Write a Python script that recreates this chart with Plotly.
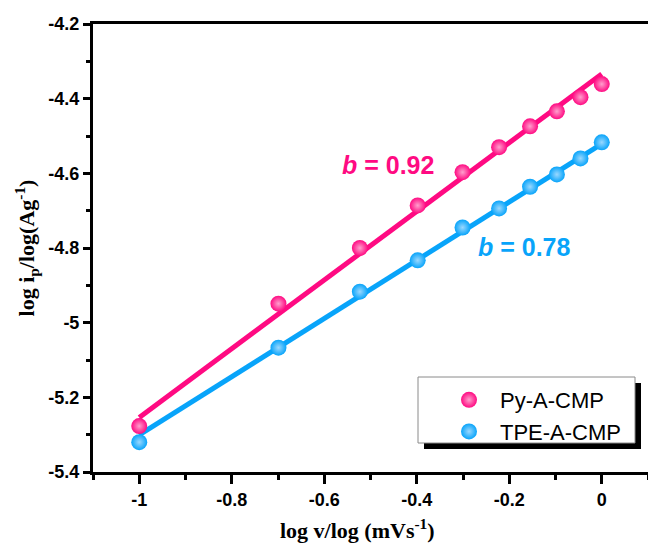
import numpy as np
import plotly.graph_objects as go

# log of scan rate (0.1 ... 1 mV/s)
log_v = [-1.0, -0.699, -0.523, -0.398, -0.301, -0.222, -0.155, -0.097, -0.046, 0.0]
# log of peak current
py_a_cmp = [-5.277, -4.949, -4.800, -4.686, -4.597, -4.530, -4.474, -4.434, -4.396, -4.361]
tpe_a_cmp = [-5.320, -5.067, -4.917, -4.833, -4.745, -4.694, -4.636, -4.603, -4.560, -4.517]
# b-values (slopes of the linear fits)
b_py = 0.92
b_tpe = 0.78

series_names = ["Py-A-CMP", "TPE-A-CMP"]
x_tickvals = [-1.0, -0.8, -0.6, -0.4, -0.2, 0.0]
x_ticktext = ["-1", "-0.8", "-0.6", "-0.4", "-0.2", "0"]
y_tickvals = [-5.4, -5.2, -5.0, -4.8, -4.6, -4.4, -4.2]
y_ticktext = ["-5.4", "-5.2", "-5", "-4.8", "-4.6", "-4.4", "-4.2"]

PINK = "#FF0A82"
BLUE = "#08A4FA"
PINK_HI = "#FF9FCD"
BLUE_HI = "#9AD8FF"

W, H = 648, 544
ML, MR, MT, MB = 93, 0, 24, 72
PW, PH = W - ML - MR, H - MT - MB


def px(xp):
    return (xp - ML) / PW


def py(yp):
    return (H - MB - yp) / PH


def fit_line(x, y, slope):
    x = np.asarray(x)
    y = np.asarray(y)
    c = y.mean() - slope * x.mean()
    xs = np.array([min(x), max(x)])
    return xs, slope * xs + c


def bold(labels):
    return [f"<b>{t}</b>" for t in labels]


fig = go.Figure()

for y, b, col in [(py_a_cmp, b_py, PINK), (tpe_a_cmp, b_tpe, BLUE)]:
    lx, ly = fit_line(log_v, y, b)
    fig.add_trace(go.Scatter(x=lx, y=ly, mode="lines",
                             line=dict(color=col, width=5),
                             showlegend=False, hoverinfo="skip"))

for name, y, col, hi in [(series_names[0], py_a_cmp, PINK, PINK_HI),
                         (series_names[1], tpe_a_cmp, BLUE, BLUE_HI)]:
    fig.add_trace(go.Scatter(
        x=log_v, y=y, mode="markers", name=name, legendgroup=name,
        marker=dict(size=16, color=col, line=dict(width=0),
                    gradient=dict(type="radial", color=hi)),
    ))

TICK_FONT = dict(family="Arial, Liberation Sans", size=18, color="black")
TITLE_FONT = dict(family="Times New Roman, Liberation Serif", size=22,
                  color="black")

axis_common = dict(
    showgrid=False, zeroline=False, showline=True, linecolor="black",
    linewidth=3, ticks="outside", tickcolor="black", tickwidth=2.5,
    tickfont=TICK_FONT,
)

fig.update_xaxes(
    range=[-1.1, 0.1], tickvals=x_tickvals, ticktext=bold(x_ticktext),
    ticklen=9, mirror=True,
    minor=dict(ticks="outside", dtick=0.1, tick0=0, ticklen=5, tickwidth=2.5,
               tickcolor="black"),
    **axis_common,
)
fig.update_yaxes(
    range=[-5.4, -4.2], tickvals=y_tickvals, ticktext=bold(y_ticktext),
    ticklen=7,
    minor=dict(ticks="outside", dtick=0.1, tick0=0, ticklen=4, tickwidth=2.5,
               tickcolor="black"),
    title=dict(text="<b>log i<sub>p</sub>/log(Ag<sup>-1</sup>)</b>",
               font=TITLE_FONT, standoff=8),
    **axis_common,
)

# legend frame with drop shadow
fig.add_shape(type="rect", xref="paper", yref="paper",
              x0=px(424), x1=px(641), y0=py(449), y1=py(383),
              fillcolor="black", line=dict(width=0), layer="above")
fig.add_shape(type="rect", xref="paper", yref="paper",
              x0=px(418), x1=px(635), y0=py(443), y1=py(377),
              fillcolor="white", line=dict(color="#8a8a8a", width=1),
              layer="above")

# b-value labels
fig.add_annotation(x=-0.462, y=-4.578, xref="x", yref="y", showarrow=False,
                   text=f"<b><i>b</i> = {b_py:.2f}</b>",
                   font=dict(family="Arial, Liberation Sans", size=25,
                             color=PINK))
fig.add_annotation(x=-0.166, y=-4.797, xref="x", yref="y", showarrow=False,
                   text=f"<b><i>b</i> = {b_tpe:.2f}</b>",
                   font=dict(family="Arial, Liberation Sans", size=25,
                             color=BLUE))
# x-axis title
fig.add_annotation(x=px(357), y=py(513), xref="paper", yref="paper",
                   xanchor="center", yanchor="top", showarrow=False,
                   text="<b>log v/log (mVs<sup>-1</sup>)</b>", font=TITLE_FONT)

fig.update_layout(
    width=W, height=H,
    margin=dict(l=ML, r=MR, t=MT, b=MB),
    paper_bgcolor="white", plot_bgcolor="white",
    showlegend=True,
    legend=dict(x=px(438), y=py(416), xanchor="left", yanchor="middle",
                bgcolor="rgba(0,0,0,0)", borderwidth=0,
                traceorder="grouped", tracegroupgap=0, itemwidth=52,
                font=dict(family="Arial, Liberation Sans", size=22,
                          color="black")),
)

fig.write_html("out.html")
